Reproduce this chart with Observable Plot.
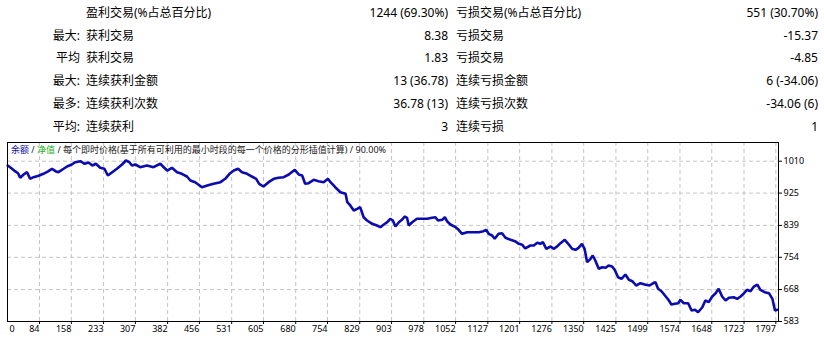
<!DOCTYPE html>
<html>
<head>
<meta charset="utf-8">
<script src="https://cdn.jsdelivr.net/npm/d3@7"></script>
<script src="https://cdn.jsdelivr.net/npm/@observablehq/plot@0.6"></script>
<style>
  html, body { margin: 0; padding: 0; background: #fff; }
  #wrap { position: relative; width: 824px; height: 338px; overflow: hidden; font-family: "Noto Sans", "Noto Sans CJK SC", sans-serif; color: #000; }
  .cell { position: absolute; font-size: 12px; line-height: 16px; white-space: nowrap; }
  .r { text-align: right; }
  #chart { position: absolute; left: 0; top: 138px; }
  #title { position: absolute; left: 11px; top: 145px; font-size: 9px; line-height: 10px; white-space: nowrap; font-family: "Noto Sans", "Noto Sans CJK SC", sans-serif; color: #202020; }
</style>
</head>
<body>
<div id="wrap">
  <div id="table"></div>
  <div id="chart"></div>
  <div id="title"></div>
</div>
<script>
// ---- statistics table ----
const rowLabels = ["", "最大:", "平均", "最大:", "最多:", "平均:"];
const winDesc = ["盈利交易(%占总百分比)", "获利交易", "获利交易", "连续获利金额", "连续获利次数", "连续获利"];
const winVals = ["1244 (69.30%)", "8.38", "1.83", "13 (36.78)", "36.78 (13)", "3"];
const lossDesc = ["亏损交易(%占总百分比)", "亏损交易", "亏损交易", "连续亏损金额", "连续亏损次数", "连续亏损"];
const lossVals = ["551 (30.70%)", "-15.37", "-4.85", "6 (-34.06)", "-34.06 (6)", "1"];

// ---- chart title ----
const titleParts = [
  {text: "余额", color: "#0b0bb0"},
  {text: " / ", color: "#202020"},
  {text: "净值", color: "#10b010"},
  {text: " / 每个即时价格(基于所有可利用的最小时段的每一个价格的分形插值计算) / 90.00%", color: "#202020"}
];

// ---- axis ticks ----
const xTicks = [0, 84, 158, 233, 307, 382, 456, 531, 605, 680, 754, 829, 903, 978, 1052, 1127, 1201, 1276, 1350, 1425, 1499, 1574, 1648, 1723, 1797];
const yTicks = [583, 668, 754, 839, 925, 1010];

// ---- balance curve (trade number, balance) ----
const trade = [10,20,27,34,39,47,55,62,70,82,93,105,113,121,128,140,148,159,167,179,189,198,207,215,225,235,243,253,264,276,285,293,299,307,318,334,349,365,373,381,392,404,415,427,435,446,462,474,489,505,516,526,536,546,555,567,578,588,595,605,617,629,640,652,664,678,687,695,702,710,722,733,745,755,761,772,784,796,800,807,815,823,830,838,846,858,869,877,885,893,900,906,912,920,927,934,939,943,951,962,974,986,997,1005,1011,1021,1027,1032,1040,1052,1059,1067,1079,1094,1106,1117,1123,1129,1137,1143,1152,1160,1168,1180,1190,1199,1207,1214,1226,1234,1242,1249,1255,1263,1273,1280,1288,1296,1306,1314,1323,1331,1338,1346,1352,1358,1366,1371,1377,1385,1393,1401,1408,1416,1422,1430,1438,1447,1455,1463,1472,1482,1492,1503,1513,1517,1523,1531,1539,1547,1554,1562,1570,1575,1583,1593,1601,1609,1616,1626,1633,1641,1649,1657,1664,1672,1680,1688,1699,1707,1715,1723,1730,1738,1746,1754,1761,1771,1781,1789,1795,1800];
const balance = [998.5,989.8,983.4,978.0,965.8,974.6,980.7,963.1,967.4,971.1,976.4,983.4,989.8,983.4,980.7,989.8,995.9,1001.2,1007.3,1010.0,1003.1,1006.5,998.5,1003.1,992.4,989.8,971.9,980.7,989.8,1001.2,1011.9,1007.3,998.5,1001.2,994.0,998.5,994.0,1003.1,994.0,985.2,992.4,980.7,976.4,969.2,958.6,954.1,940.7,945.3,949.8,954.1,963.1,976.4,985.2,989.8,980.7,976.4,969.2,963.1,949.8,942.6,954.1,963.1,965.8,967.4,974.6,987.1,974.6,971.9,949.8,951.4,960.4,956.7,954.1,963.1,954.1,940.7,927.4,923.2,900.8,892.0,878.7,883.2,887.5,860.8,852.0,843.2,838.7,834.2,841.4,847.5,856.6,852.0,836.0,847.5,853.9,862.7,859.2,838.7,847.5,856.6,856.6,856.6,859.2,860.8,852.0,853.9,860.8,850.2,841.4,834.2,827.2,816.6,820.9,820.9,820.9,823.5,827.2,816.6,812.1,803.3,816.6,818.2,805.9,800.6,796.9,789.9,787.3,778.0,785.4,785.4,792.6,790.0,794.2,776.6,782.8,776.6,782.8,791.6,800.6,790.0,776.6,774.0,779.3,790.0,776.6,741.0,750.0,758.8,745.5,723.4,727.6,726.0,732.1,729.5,720.7,701.0,696.7,708.2,694.0,690.3,678.9,685.0,681.5,678.9,686.1,687.7,670.1,663.7,652.2,640.8,628.2,630.1,631.7,640.8,631.7,631.7,612.3,614.1,607.7,621.0,638.9,634.4,649.6,658.4,670.1,649.6,638.9,646.1,647.7,643.4,649.6,658.4,667.4,663.7,676.2,681.5,667.4,661.0,658.4,643.4,612.3,614.1];

const table = document.getElementById("table");
function cell(text, x, row, align) {
  const d = document.createElement("div");
  d.className = "cell" + (align === "right" ? " r" : "");
  d.textContent = text;
  const top = 12.7 + row * 22.8 - 8;
  d.style.top = top + "px";
  if (align === "right") { d.style.right = (824 - x) + "px"; }
  else { d.style.left = x + "px"; }
  table.appendChild(d);
}
rowLabels.forEach((t, i) => {
  if (t) cell(t, 80, i, "right");
  cell(winDesc[i], 86, i, "left");
  cell(winVals[i], 448, i, "right");
  cell(lossDesc[i], 456, i, "left");
  cell(lossVals[i], 818, i, "right");
});

const title = document.getElementById("title");
titleParts.forEach(p => {
  const s = document.createElement("span");
  s.textContent = p.text;
  s.style.color = p.color;
  title.appendChild(s);
});

const data = trade.map((t, i) => ({trade: t, balance: balance[i]}));
const gridColor = "#c4c4c4";
const plain = d => String(d);

const chart = Plot.plot({
  width: 824,
  height: 200,
  marginTop: 4,
  marginBottom: 17,
  marginLeft: 7,
  marginRight: 46,
  style: {fontFamily: "'Noto Sans', sans-serif", fontSize: "9px", color: "#000", background: "transparent"},
  x: {domain: [9.5, 1803.2], clamp: true},
  y: {domain: [583, 1059.8]},
  marks: [
    Plot.gridX(xTicks, {stroke: gridColor, strokeOpacity: 1, strokeDasharray: "4,3"}),
    Plot.gridY(yTicks, {stroke: gridColor, strokeOpacity: 1, strokeDasharray: "4,3"}),
    Plot.line(data, {x: "trade", y: "balance", stroke: "#0b0bb0", strokeWidth: 2.6, strokeLinejoin: "miter"}),
    Plot.frame({stroke: "#000", strokeWidth: 1}),
    Plot.axisX(xTicks.slice(1), {anchor: "bottom", tickSize: 3, tickPadding: 1, textAnchor: "end", label: null, fill: "#000", tickFormat: plain}),
    Plot.axisX(xTicks.slice(0, 1), {anchor: "bottom", tickSize: 0, tickPadding: 4, textAnchor: "start", dx: 2, label: null, fill: "#000", tickFormat: plain}),
    Plot.axisY(yTicks, {anchor: "right", tickSize: 3, tickPadding: 2, label: null, fill: "#000", tickFormat: plain})
  ]
});
document.getElementById("chart").appendChild(chart);
</script>
</body>
</html>
